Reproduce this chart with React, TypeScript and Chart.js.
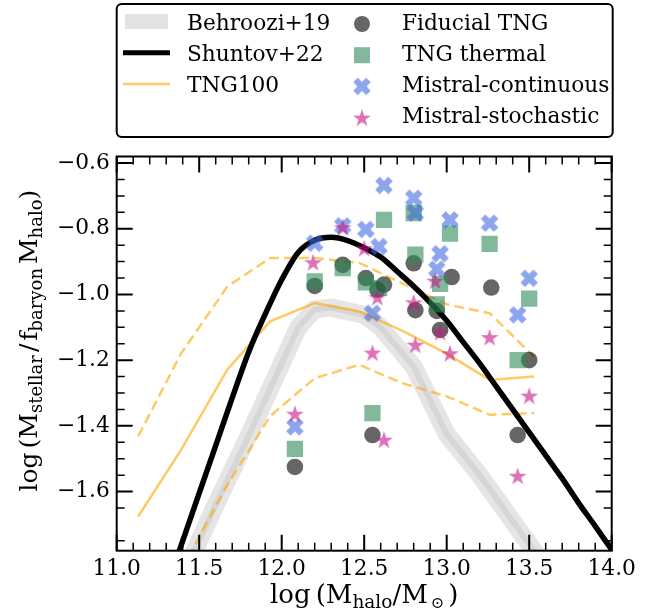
import React, { useEffect, useRef } from 'react';
import { Chart, registerables } from 'chart.js';

Chart.register(...registerables);

// ---------- axis ticks ----------
const xTicks = [11.0, 11.5, 12.0, 12.5, 13.0, 13.5, 14.0];
const yTicks = [-1.6, -1.4, -1.2, -1.0, -0.8, -0.6];
const xMinor = [11.1, 11.2, 11.3, 11.4, 11.6, 11.7, 11.8, 11.9, 12.1, 12.2, 12.3, 12.4, 12.6, 12.7, 12.8, 12.9, 13.1, 13.2, 13.3, 13.4, 13.6, 13.7, 13.8, 13.9];
const yMinor = [-1.75, -1.65, -1.55, -1.5, -1.45, -1.35, -1.3, -1.25, -1.15, -1.1, -1.05, -0.95, -0.9, -0.85, -0.75, -0.7, -0.65];

// ---------- Behroozi+19 ----------
const behrooziX = [11.4, 11.6, 11.8, 12.0, 12.1, 12.2, 12.3, 12.5, 12.6, 12.7, 12.8, 13.0, 13.2, 13.4, 13.6];
const behrooziY = [-1.86, -1.64, -1.43, -1.21, -1.10, -1.045, -1.04, -1.062, -1.10, -1.16, -1.22, -1.425, -1.55, -1.69, -1.83];

// ---------- Shuntov+22 ----------
const shuntovX = [11.3, 11.4, 11.5, 11.6, 11.7, 11.8, 11.9, 12.0, 12.1, 12.2, 12.3, 12.4, 12.5, 12.6, 12.7, 12.8, 12.9, 13.0, 13.1, 13.2, 13.3, 13.4, 13.5, 13.6, 13.7, 13.8, 13.9, 14.0];
const shuntovY = [-1.895, -1.75, -1.605, -1.46, -1.315, -1.175, -1.06, -0.955, -0.872, -0.835, -0.826, -0.836, -0.858, -0.886, -0.93, -0.975, -1.025, -1.08, -1.145, -1.21, -1.28, -1.35, -1.42, -1.49, -1.56, -1.635, -1.705, -1.777];

// ---------- TNG100 ----------
const tngX = [11.13, 11.39, 11.67, 11.93, 12.20, 12.47, 12.73, 13.00, 13.26, 13.53];
const tngMedian = [-1.676, -1.473, -1.229, -1.082, -1.026, -1.052, -1.11, -1.18, -1.26, -1.25];
const tngUpper = [-1.432, -1.18, -0.976, -0.889, -0.889, -0.904, -0.966, -1.03, -1.057, -1.19];
const tngLowerX = [11.39, 11.67, 11.93, 12.20, 12.47, 12.73, 13.00, 13.26, 13.53];
const tngLower = [-1.84, -1.58, -1.37, -1.255, -1.214, -1.27, -1.31, -1.366, -1.361];

// ---------- simulations ----------
const fiducialX = [12.08, 12.20, 12.37, 12.51, 12.55, 12.58, 12.62, 12.80, 12.81, 12.94, 12.96, 13.03, 13.27, 13.43, 13.50];
const fiducialY = [-1.525, -0.974, -0.91, -0.95, -1.428, -0.985, -0.97, -0.905, -1.048, -1.05, -1.108, -0.947, -0.979, -1.428, -1.20];

const thermalX = [12.08, 12.20, 12.37, 12.51, 12.55, 12.59, 12.62, 12.80, 12.81, 12.94, 12.96, 13.02, 13.26, 13.43, 13.50];
const thermalY = [-1.47, -0.96, -0.92, -0.963, -1.361, -0.98, -0.773, -0.752, -0.879, -1.03, -0.968, -0.815, -0.846, -1.20, -1.013];

const continuousX = [12.08, 12.20, 12.37, 12.51, 12.55, 12.59, 12.62, 12.80, 12.81, 12.94, 12.96, 13.02, 13.26, 13.43, 13.50];
const continuousY = [-1.403, -0.844, -0.791, -0.802, -1.057, -0.854, -0.668, -0.707, -0.752, -0.923, -0.876, -0.773, -0.783, -1.062, -0.951];

const stochasticX = [12.08, 12.19, 12.37, 12.50, 12.55, 12.58, 12.62, 12.80, 12.81, 12.93, 12.96, 13.02, 13.26, 13.43, 13.50];
const stochasticY = [-1.363, -0.902, -0.795, -0.859, -1.177, -1.008, -1.442, -1.024, -1.153, -0.958, -1.115, -1.179, -1.130, -1.552, -1.308];

const legendLeft = ['Behroozi+19', 'Shuntov+22', 'TNG100'];
const legendRight = ['Fiducial TNG', 'TNG thermal', 'Mistral-continuous', 'Mistral-stochastic'];

const FONT = "'DejaVu Serif', serif";
const FS = 21.7;
const C_GRAY = 'rgba(0,0,0,0.6)';
const C_GREEN = 'rgba(46,139,87,0.6)';
const C_BLUE = 'rgba(65,105,225,0.6)';
const C_PINK = 'rgba(199,21,133,0.6)';
const C_ORANGE = 'rgba(255,165,0,0.6)';

const pts = (xs: number[], ys: number[]) => xs.map((x, i) => ({ x, y: ys[i] }));

function makeMarker(kind: 'x' | 'star', color: string): HTMLCanvasElement {
  const S = 24;
  const c = document.createElement('canvas');
  c.width = S;
  c.height = S;
  const g = c.getContext('2d')!;
  g.translate(S / 2, S / 2);
  g.fillStyle = color;
  g.beginPath();
  if (kind === 'x') {
    const a = 3.2, L = 9.2;
    const p = [[-a, -L], [a, -L], [a, -a], [L, -a], [L, a], [a, a], [a, L], [-a, L], [-a, a], [-L, a], [-L, -a], [-a, -a]];
    const cs = Math.SQRT1_2;
    p.forEach(([px, py], i) => {
      const rx = (px - py) * cs, ry = (px + py) * cs;
      if (i) g.lineTo(rx, ry); else g.moveTo(rx, ry);
    });
  } else {
    const R = 9.4, r = R * 0.381966;
    for (let i = 0; i < 10; i++) {
      const ang = -Math.PI / 2 + (i * Math.PI) / 5;
      const rad = i % 2 ? r : R;
      const px = Math.cos(ang) * rad, py = Math.sin(ang) * rad + 1;
      if (i) g.lineTo(px, py); else g.moveTo(px, py);
    }
  }
  g.closePath();
  g.fill();
  return c;
}

type Part = { t: string; size: number; dy?: number; gap?: number };

function drawRich(ctx: CanvasRenderingContext2D, parts: Part[], cx: number, baseline: number) {
  let total = 0;
  const widths = parts.map((p) => {
    ctx.font = `${p.size}px ${FONT}`;
    const w = ctx.measureText(p.t).width + (p.gap || 0);
    total += w;
    return w;
  });
  let x = cx - total / 2;
  ctx.textAlign = 'left';
  ctx.textBaseline = 'alphabetic';
  parts.forEach((p, i) => {
    ctx.font = `${p.size}px ${FONT}`;
    ctx.fillText(p.t, x, baseline + (p.dy || 0));
    x += widths[i];
  });
}

export default function App() {
  const ref = useRef<HTMLCanvasElement>(null);

  useEffect(() => {
    const canvas = ref.current!;
    const xMark = makeMarker('x', C_BLUE);
    const starMark = makeMarker('star', C_PINK);

    const decorPlugin = {
      id: 'decor',
      afterDatasetsDraw(chart: any) {
        const { ctx, chartArea: ca, scales } = chart;
        const xs = scales.x, ys = scales.y;
        ctx.save();
        ctx.strokeStyle = '#000';
        const major = 16, minor = 8;
        ctx.lineWidth = 2;
        ctx.beginPath();
        xTicks.forEach((v) => {
          const px = xs.getPixelForValue(v);
          ctx.moveTo(px, ca.bottom); ctx.lineTo(px, ca.bottom - major);
          ctx.moveTo(px, ca.top); ctx.lineTo(px, ca.top + major);
        });
        yTicks.forEach((v) => {
          const py = ys.getPixelForValue(v);
          ctx.moveTo(ca.left, py); ctx.lineTo(ca.left + major, py);
          ctx.moveTo(ca.right, py); ctx.lineTo(ca.right - major, py);
        });
        ctx.stroke();
        ctx.lineWidth = 1.5;
        ctx.beginPath();
        xMinor.forEach((v) => {
          const px = xs.getPixelForValue(v);
          ctx.moveTo(px, ca.bottom); ctx.lineTo(px, ca.bottom - minor);
          ctx.moveTo(px, ca.top); ctx.lineTo(px, ca.top + minor);
        });
        yMinor.forEach((v) => {
          const py = ys.getPixelForValue(v);
          ctx.moveTo(ca.left, py); ctx.lineTo(ca.left + minor, py);
          ctx.moveTo(ca.right, py); ctx.lineTo(ca.right - minor, py);
        });
        ctx.stroke();
        ctx.lineWidth = 2;
        ctx.strokeRect(ca.left, ca.top, ca.right - ca.left, ca.bottom - ca.top);
        ctx.restore();
      },
      afterDraw(chart: any) {
        const { ctx, chartArea: ca } = chart;
        ctx.save();
        ctx.fillStyle = '#000';
        // x title
        const cx = (ca.left + ca.right) / 2;
        drawRich(ctx, [
          { t: 'log', size: 26, gap: 5 },
          { t: '(', size: 26 },
          { t: 'M', size: 26 },
          { t: 'halo', size: 18.5, dy: 5 },
          { t: '/', size: 26 },
          { t: 'M', size: 26, gap: 3 },
          { t: '\u2299', size: 16, dy: 5, gap: 4 },
          { t: ')', size: 26 },
        ], cx, 603);
        // y title
        ctx.save();
        ctx.translate(37, (ca.top + ca.bottom) / 2 - 13);
        ctx.rotate(-Math.PI / 2);
        drawRich(ctx, [
          { t: 'log', size: 25, gap: 4 },
          { t: '(', size: 25 },
          { t: 'M', size: 25 },
          { t: 'stellar', size: 18, dy: 5, gap: 3 },
          { t: '/', size: 25, gap: 3 },
          { t: 'f', size: 25 },
          { t: 'baryon', size: 18, dy: 5, gap: 4 },
          { t: 'M', size: 25 },
          { t: 'halo', size: 18, dy: 5 },
          { t: ')', size: 25 },
        ], 0, 0);
        ctx.restore();

        // legend box
        const bx = ca.left, by = 4, bw = ca.right - ca.left + 1, bh = 133, rr = 5;
        ctx.fillStyle = '#fff';
        ctx.strokeStyle = '#000';
        ctx.lineWidth = 2;
        ctx.beginPath();
        ctx.moveTo(bx + rr, by);
        ctx.arcTo(bx + bw, by, bx + bw, by + bh, rr);
        ctx.arcTo(bx + bw, by + bh, bx, by + bh, rr);
        ctx.arcTo(bx, by + bh, bx, by, rr);
        ctx.arcTo(bx, by, bx + bw, by, rr);
        ctx.closePath();
        ctx.fill();
        ctx.stroke();

        const baselines = [29.5, 60.7, 91.9, 123.1];
        // left column swatches
        ctx.fillStyle = '#e3e3e3';
        ctx.fillRect(125, 14, 43, 15);
        ctx.strokeStyle = '#000';
        ctx.lineWidth = 5;
        ctx.beginPath(); ctx.moveTo(123, baselines[1] - 8); ctx.lineTo(170, baselines[1] - 8); ctx.stroke();
        ctx.strokeStyle = C_ORANGE;
        ctx.lineWidth = 2.5;
        ctx.beginPath(); ctx.moveTo(123, baselines[2] - 8); ctx.lineTo(170, baselines[2] - 8); ctx.stroke();
        // right column markers
        const mx = 362;
        ctx.fillStyle = C_GRAY;
        ctx.beginPath(); ctx.arc(mx, baselines[0] - 5.5, 8, 0, Math.PI * 2); ctx.fill();
        ctx.fillStyle = C_GREEN;
        ctx.fillRect(mx - 8, baselines[1] - 5.5 - 8, 16, 16);
        ctx.drawImage(xMark, mx - 12, baselines[2] - 5.5 - 12);
        ctx.drawImage(starMark, mx - 12, baselines[3] - 5.5 - 12);

        ctx.fillStyle = '#000';
        ctx.font = `${FS}px ${FONT}`;
        ctx.textAlign = 'left';
        ctx.textBaseline = 'alphabetic';
        legendLeft.forEach((t, i) => ctx.fillText(t, 187, baselines[i]));
        legendRight.forEach((t, i) => ctx.fillText(t, 402, baselines[i]));
        ctx.restore();
      },
    };

    const lineBase = { type: 'line', pointRadius: 0, fill: false, clip: 0 };

    const chart = new Chart(canvas, {
      type: 'scatter',
      data: {
        datasets: [
          { label: 'Mistral-stochastic', data: pts(stochasticX, stochasticY), pointStyle: starMark, pointRadius: 9, order: 1 },
          { label: 'Mistral-continuous', data: pts(continuousX, continuousY), pointStyle: xMark, pointRadius: 9, order: 2 },
          { label: 'TNG thermal', data: pts(thermalX, thermalY), pointStyle: 'rect', pointRadius: 11.5, backgroundColor: C_GREEN, borderWidth: 0, order: 3 },
          { label: 'Fiducial TNG', data: pts(fiducialX, fiducialY), pointStyle: 'circle', pointRadius: 8.3, backgroundColor: C_GRAY, borderWidth: 0, order: 4 },
          { ...lineBase, label: 'Shuntov+22', data: pts(shuntovX, shuntovY), borderColor: '#000', borderWidth: 5.5, cubicInterpolationMode: 'monotone', order: 5 },
          { ...lineBase, label: 'TNG100', data: pts(tngX, tngMedian), borderColor: C_ORANGE, borderWidth: 2.5, order: 6 },
          { ...lineBase, label: 'TNG100 upper', data: pts(tngX, tngUpper), borderColor: C_ORANGE, borderWidth: 2.5, borderDash: [10, 5], order: 6 },
          { ...lineBase, label: 'TNG100 lower', data: pts(tngLowerX, tngLower), borderColor: C_ORANGE, borderWidth: 2.5, borderDash: [10, 5], order: 6 },
          { ...lineBase, label: 'Behroozi inner', data: pts(behrooziX, behrooziY), borderColor: '#d6d6d6', borderWidth: 6, order: 7 },
          { ...lineBase, label: 'Behroozi+19', data: pts(behrooziX, behrooziY), borderColor: '#e5e5e5', borderWidth: 18, order: 8 },
        ] as any,
      },
      options: {
        responsive: false,
        animation: false,
        devicePixelRatio: 1,
        events: [],
        layout: { padding: { left: 56.7, right: 50.3, top: 156.5, bottom: 25.3 } },
        plugins: { legend: { display: false }, tooltip: { enabled: false } },
        elements: { line: { borderJoinStyle: 'miter' } },
        scales: {
          x: {
            type: 'linear',
            min: 11,
            max: 14,
            grid: { display: false, drawTicks: false },
            border: { display: false },
            afterBuildTicks: (s: any) => { s.ticks = xTicks.map((v) => ({ value: v })); },
            afterFit: (s: any) => { s.height = 40; },
            ticks: {
              font: { family: FONT, size: FS },
              color: '#000',
              padding: 6,
              maxRotation: 0,
              autoSkip: false,
              callback: (v: any) => Number(v).toFixed(1),
            },
          },
          y: {
            type: 'linear',
            min: -1.78,
            max: -0.58,
            grid: { display: false, drawTicks: false },
            border: { display: false },
            afterBuildTicks: (s: any) => { s.ticks = yTicks.map((v) => ({ value: v })); },
            afterFit: (s: any) => { s.width = 60; },
            ticks: {
              font: { family: FONT, size: FS },
              color: '#000',
              padding: 7,
              autoSkip: false,
              callback: (v: any) => (Number(v) < 0 ? '\u2212' : '') + Math.abs(Number(v)).toFixed(1),
            },
          },
        },
      } as any,
      plugins: [decorPlugin],
    });
    return () => chart.destroy();
  }, []);

  return (
    <div style={{ position: 'fixed', left: 0, top: 0, width: 662, height: 616, background: '#fff' }}>
      <canvas ref={ref} width={662} height={616} style={{ display: 'block' }} />
    </div>
  );
}
